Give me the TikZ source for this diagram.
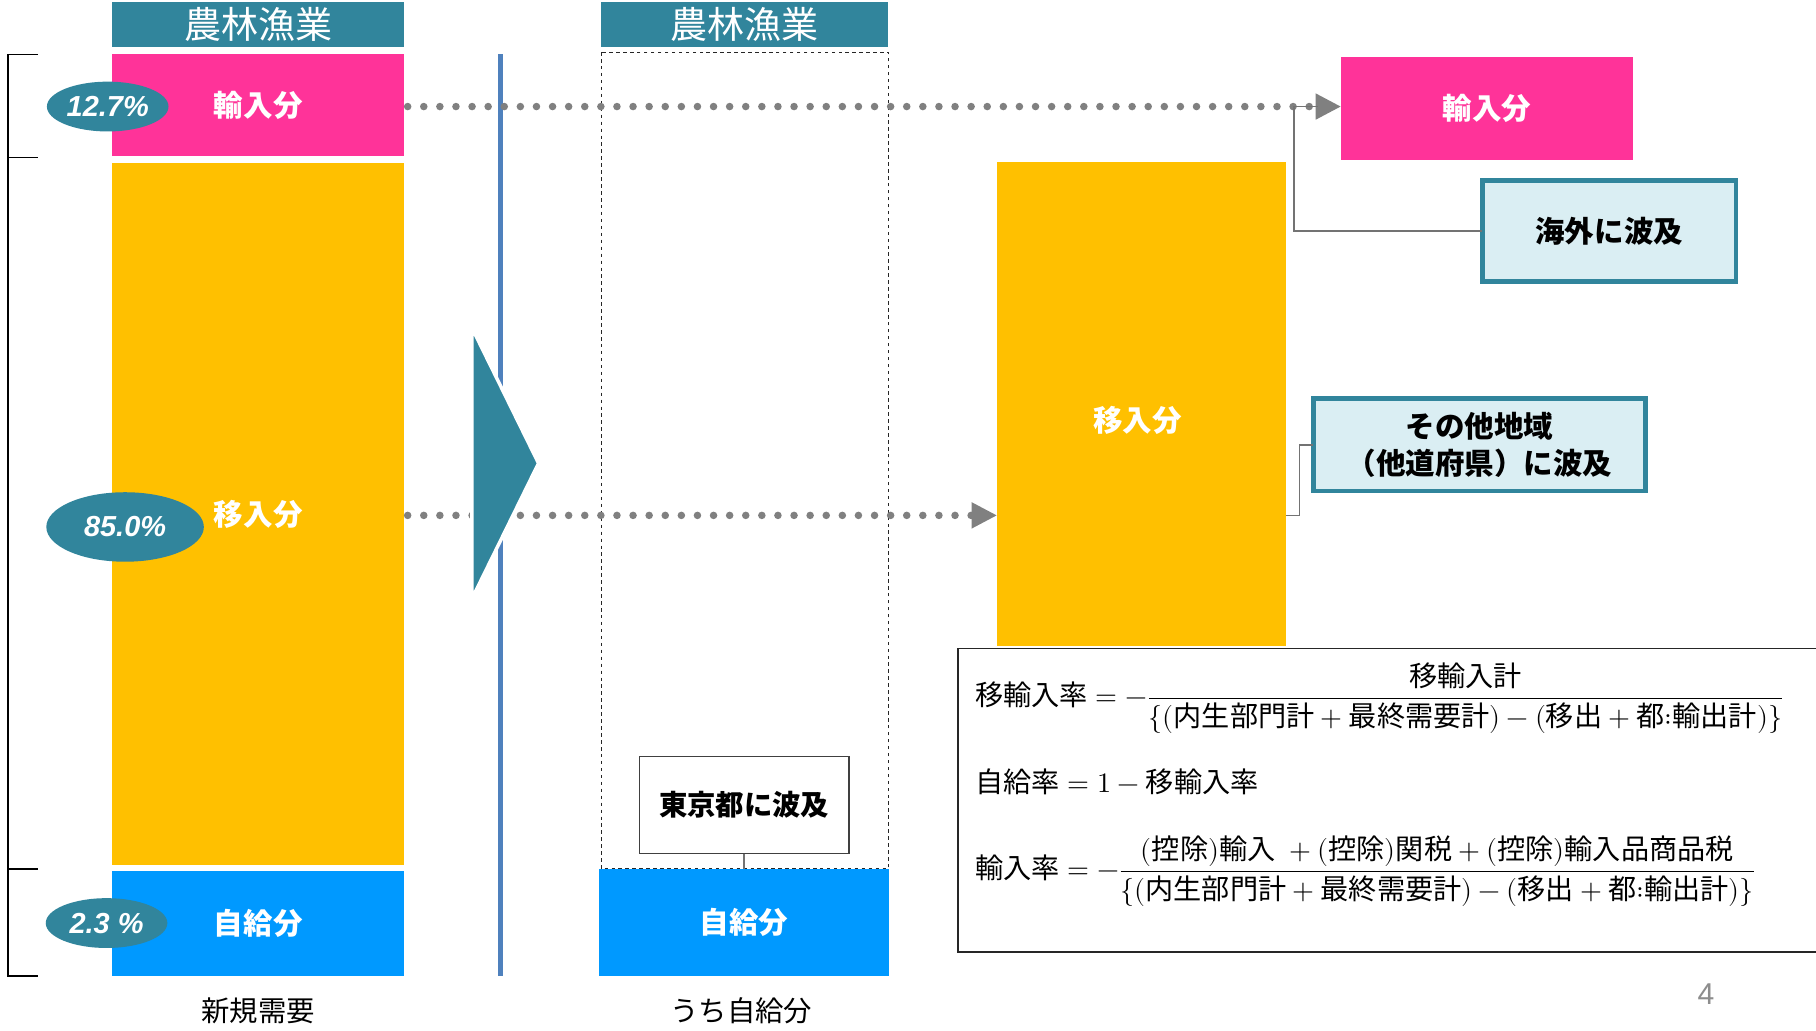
\documentclass[tikz,border=0pt]{standalone}
\usepackage{fontspec}
\usepackage{unicode-math}
\setmathfont{Latin Modern Math}
\newfontfamily\cjk{Noto Sans CJK JP}
\newfontfamily\lsans{Liberation Sans}
\usetikzlibrary{arrows.meta,shapes.geometric,calc}
\definecolor{tealc}{HTML}{31859C}
\definecolor{pinkc}{HTML}{FF3399}
\definecolor{yellowc}{HTML}{FFC000}
\definecolor{bluec}{HTML}{0099FF}
\definecolor{lightc}{HTML}{DAEEF3}
\definecolor{linec}{HTML}{4F81BD}
\definecolor{grayc}{HTML}{808080}
\newcommand{\J}[1]{\mbox{\cjk #1}}
\begin{document}
\begin{tikzpicture}[x=1pt,y=-1pt,
  blk/.style={rectangle,inner sep=0pt,outer sep=0pt},
  hdr/.style={blk,fill=tealc,text=white,minimum height=39pt,font=\cjk\fontsize{32}{36}\selectfont},
  lbl/.style={blk,text=white,font=\cjk\fontsize{25.5}{30}\selectfont\bfseries},
  pct/.style={ellipse,inner sep=0pt,outer sep=0pt,fill=tealc,text=white,font=\lsans\fontsize{25}{30}\selectfont\bfseries\itshape},
  callout/.style={blk,fill=lightc,draw=tealc,line width=4pt,align=center,font=\cjk\fontsize{25.5}{32}\selectfont\bfseries},
  dotline/.style={grayc,line width=6.5pt,line cap=round,dash pattern=on 0pt off 13.9pt,-{Triangle[length=22pt,width=21pt]}},
  conn/.style={grayc!90!black,line width=1.5pt},
  captext/.style={font=\cjk\fontsize{24.5}{28}\selectfont},
  frm/.style={anchor=west,inner sep=0pt,font=\cjk\fontsize{24.3}{29}\selectfont}
]
\useasboundingbox (0,0) rectangle (1568,889.4);
\fill[white] (0,0) rectangle (1568,889.4);

% middle dashed frame
\draw[black!85,line width=1pt,dashed] (519,45) rectangle (767,750);
% blue vertical line
\draw[linec,line width=4pt] (432,47) -- (432,843);
% left bracket
\draw[black,line width=1.5pt] (33,47) -- (7,47) -- (7,843) -- (33,843);
\draw[black,line width=1.5pt] (7,136) -- (33,136);
\draw[black,line width=1.5pt] (7,750) -- (33,750);

% left column
\node[hdr,minimum width=252pt] (hdrL) at (223,21.5) {農林漁業};
\node[lbl,fill=pinkc,minimum width=252pt,minimum height=88pt] (pinkL) at (223,91) {輸入分};
\node[lbl,fill=yellowc,minimum width=252pt,minimum height=606pt] (yellowL) at (223,444) {移入分};
\node[lbl,fill=bluec,minimum width=252pt,minimum height=91pt] (blueL) at (223,797.5) {自給分};
\node[captext] (capL) at (223,873) {新規需要};

% middle column
\node[hdr,minimum width=248pt] (hdrM) at (643,21.5) {農林漁業};
\node[blk,fill=white,draw=black!75,line width=1.2pt,minimum width=181pt,minimum height=84pt,font=\cjk\fontsize{24.5}{29}\selectfont\bfseries] (tokyo) at (642.5,695) {東京都に波及};
\node[lbl,fill=bluec,minimum width=251pt,minimum height=93pt] (blueM) at (642.5,796.5) {自給分};
\node[captext] (capM) at (640,873) {うち自給分};
\draw[conn] (tokyo.south) -- (tokyo.south |- blueM.north);

% right column
\node[lbl,fill=pinkc,minimum width=252pt,minimum height=89pt] (pinkR) at (1284,93.5) {輸入分};
\node[blk,fill=yellowc,minimum width=249pt,minimum height=418pt] (yellowR) at (985.5,349) {};
\node[lbl] (yellowRt) at (982,363) {移入分};
\node[callout,minimum width=219pt,minimum height=87pt] (kaigai) at (1389.5,199.5) {海外に波及};
\node[callout,minimum width=287pt,minimum height=80pt] (sonota) at (1277.5,384) {その他地域\\（他道府県）に波及};

% dotted arrows
\draw[dotline] (pinkL.east) ++(3,1) coordinate (a1s) -- (a1s -| pinkR.west);
\draw[dotline] (yellowL.east) ++(3,1) coordinate (a2s) -- (a2s -| yellowR.west);

% big arrow triangle
\fill[tealc,draw=white,line width=3pt,line join=miter] (407.5,283) -- (465,400) -- (407.5,517) -- cycle;

% connectors from callouts
\coordinate (kj) at (1117,199.5);
\draw[conn] (kaigai.west) -- (kj) -- (kj |- a1s) -- ($(a1s -| pinkR.west)+(-20,0)$);
\coordinate (sj) at (1122,384);
\coordinate (ye) at (yellowR.east |- a2s);
\draw[conn] (sonota.west) -- (sj) -- (sj |- ye) -- (ye);

% percentage ellipses
\node[pct,minimum width=105pt,minimum height=43pt] (e1) at (93,92) {12.7\%};
\node[pct,minimum width=136pt,minimum height=60pt] (e2) at (108,455) {85.0\%};
\node[pct,minimum width=105pt,minimum height=43pt] (e3) at (92,797) {2.3 \%};

% formula box
\draw[black!85,line width=1.2pt,fill=white] (827,560) rectangle (1580,822);
\node[frm] (f1) at (842,603) {$\J{移輸入率}=-\dfrac{\J{移輸入計}}{\{(\J{内生部門計}+\J{最終需要計})-(\J{移出}+\J{都}{:}\J{輸出計})\}}$};
\node[frm] (f2) at (842,675) {$\J{自給率}=1-\J{移輸入率}$};
\node[frm] (f3) at (842,752) {$\J{輸入率}=-\dfrac{(\J{控除})\J{輸入}\;+(\J{控除})\J{関税}+(\J{控除})\J{輸入品商品税}}{\{(\J{内生部門計}+\J{最終需要計})-(\J{移出}+\J{都}{:}\J{輸出計})\}}$};

% page number
\node[text=grayc!90,font=\lsans\fontsize{26}{30}\selectfont] (pg) at (1473,858) {4};
\end{tikzpicture}
\end{document}
